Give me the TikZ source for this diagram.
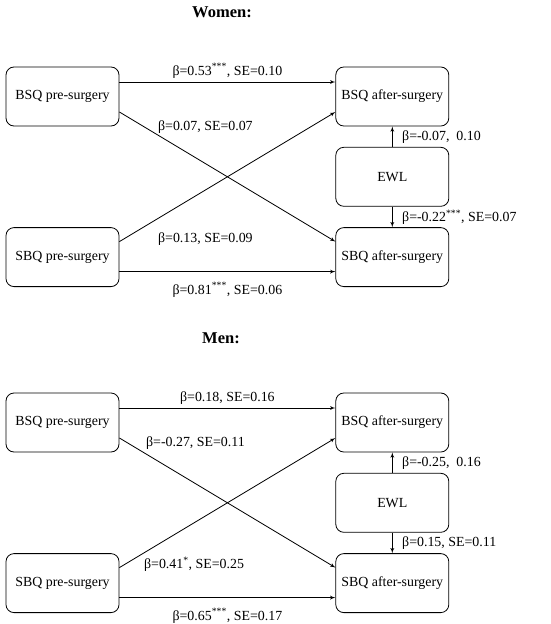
\documentclass[tikz,border=0pt]{standalone}
\usepackage{fontspec}
\setmainfont{Liberation Serif}
\usetikzlibrary{arrows,positioning}

\begin{document}
\begin{tikzpicture}[
  x=1pt, y=-1pt,
  node distance=20.5pt and 216pt,
  box/.style={draw, rectangle, rounded corners=8pt, line width=0.8pt, text centered, minimum width=113pt, minimum height=59pt, font=\fontsize{13.9}{16}\selectfont},
  lbl/.style={font=\fontsize{13.9}{16}\selectfont, inner sep=1.5pt},
  heading/.style={font=\fontsize{16.5}{19}\selectfont\bfseries},
  line/.style={draw, line width=0.8pt, -latex'}
]
\useasboundingbox (0,0) rectangle (550,624);

% Women
\node[heading] (wtitle) at (222,12) {Women:};
\node[box] (wbsqpre) at (62.5,96.5) {BSQ pre-surgery};
\node[box, right=of wbsqpre] (wbsqpost) {BSQ after-surgery};
\node[box, below=of wbsqpost] (wewl) {EWL};
\node[box, below=of wewl] (wsbqpost) {SBQ after-surgery};
\node[box, left=of wsbqpost] (wsbqpre) {SBQ pre-surgery};

\path[line] ([yshift=14.5pt]wbsqpre.east) -- ([yshift=14.5pt]wbsqpost.west)
  node[lbl, midway, above=2pt] (wl1) {β=0.53\textsuperscript{***}, SE=0.10};
\path[line] ([yshift=-15.5pt]wbsqpre.east) -- ([yshift=15.5pt]wsbqpost.west);
\path[line] ([yshift=15.5pt]wsbqpre.east) -- ([yshift=-15.5pt]wbsqpost.west);
\path[line] ([yshift=-14.5pt]wsbqpre.east) -- ([yshift=-14.5pt]wsbqpost.west)
  node[lbl, midway, below=9pt] (wl4) {β=0.81\textsuperscript{***}, SE=0.06};
\node[lbl, anchor=west] (wl2) at ([xshift=37pt, yshift=-30.5pt]wbsqpre.east) {β=0.07, SE=0.07};
\node[lbl, anchor=west] (wl3) at ([xshift=37pt, yshift=18.5pt]wsbqpre.east) {β=0.13, SE=0.09};

\path[line] (wewl) -- (wbsqpost) node[lbl, midway, right=8pt] (wl5) {β=-0.07, \ 0.10};
\path[line] (wewl) -- (wsbqpost) node[lbl, midway, right=8pt] (wl6) {β=-0.22\textsuperscript{***}, SE=0.07};

% Men
\node[heading] (mtitle) at (221,338) {Men:};
\node[box] (mbsqpre) at (62.5,422.5) {BSQ pre-surgery};
\node[box, right=of mbsqpre] (mbsqpost) {BSQ after-surgery};
\node[box, below=of mbsqpost] (mewl) {EWL};
\node[box, below=of mewl] (msbqpost) {SBQ after-surgery};
\node[box, left=of msbqpost] (msbqpre) {SBQ pre-surgery};

\path[line] ([yshift=14.5pt]mbsqpre.east) -- ([yshift=14.5pt]mbsqpost.west)
  node[lbl, midway, above=2pt] (ml1) {β=0.18, SE=0.16};
\path[line] ([yshift=-15.5pt]mbsqpre.east) -- ([yshift=15.5pt]msbqpost.west);
\path[line] ([yshift=15.5pt]msbqpre.east) -- ([yshift=-15.5pt]mbsqpost.west);
\path[line] ([yshift=-14.5pt]msbqpre.east) -- ([yshift=-14.5pt]msbqpost.west)
  node[lbl, midway, below=9pt] (ml4) {β=0.65\textsuperscript{***}, SE=0.17};
\node[lbl, anchor=west] (ml2) at ([xshift=25pt, yshift=-20.5pt]mbsqpre.east) {β=-0.27, SE=0.11};
\node[lbl, anchor=west] (ml3) at ([xshift=23pt, yshift=18.5pt]msbqpre.east) {β=0.41\textsuperscript{*}, SE=0.25};

\path[line] (mewl) -- (mbsqpost) node[lbl, midway, right=8pt] (ml5) {β=-0.25, \ 0.16};
\path[line] (mewl) -- (msbqpost) node[lbl, midway, right=8pt] (ml6) {β=0.15, SE=0.11};

\end{tikzpicture}
\end{document}
